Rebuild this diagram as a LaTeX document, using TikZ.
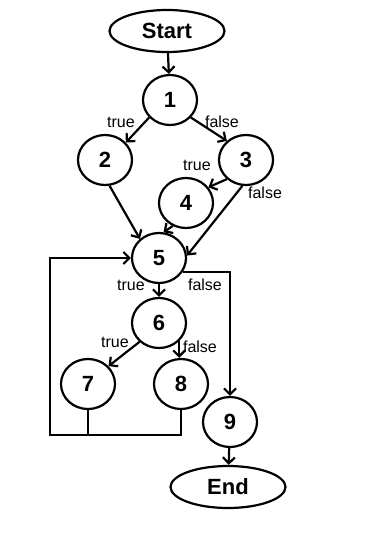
\documentclass[tikz,border=0pt]{standalone}
\usepackage{fontspec}
\setmainfont{Liberation Sans}
\usepackage{tikz}
\usetikzlibrary{positioning}
\usetikzlibrary{arrows.meta}
\usetikzlibrary{shapes.geometric}

\begin{document}
\begin{tikzpicture}[
        x=1pt, y=-1pt,
        block/.style={
            ellipse,
            draw,
            line width=2.2pt,
            inner sep=0pt,
            minimum width=54pt,
            minimum height=50pt,
            font=\fontsize{22}{24}\selectfont\bfseries
        },
        term/.style={
            block,
            minimum width=115pt,
            minimum height=42pt
        },
        lbl/.style={
            inner sep=0pt,
            font=\fontsize{16}{18}\selectfont
        },
        arrow/.style={-{Straight Barb[length=6pt,width=12pt]}, line width=2.2pt},
        line/.style={line width=2.2pt}
    ]

    \useasboundingbox (0,0) rectangle (369,549);

    \node[term] (start) at (167,31) {Start};
    \node[block] (n1) at (170,100) {1};
    \node[block] (n2) at (105,160) {2};
    \node[block] (n3) at (246,160) {3};
    \node[block] (n4) at (186,203) {4};
    \node[block] (n5) at (159,258) {5};
    \node[block] (n6) at (159,323) {6};
    \node[block] (n7) at (88,384) {7};
    \node[block] (n8) at (181,384) {8};
    \node[block] (n9) at (230,422) {9};
    \node[term] (end) at (228,487) {End};
    \coordinate (back) at (50,435);

    \node[lbl] (t1) at (121,122) {true};
    \node[lbl] (f1) at (222,122) {false};
    \node[lbl] (t3) at (197,165) {true};
    \node[lbl] (f3) at (265,193) {false};
    \node[lbl] (t5) at (131,285) {true};
    \node[lbl] (f5) at (205,285) {false};
    \node[lbl] (t6) at (115,342) {true};
    \node[lbl] (f6) at (200,347) {false};

    \draw[arrow] (start) -- (n1);
    \draw[arrow] (n1.220) -- (n2.40);
    \draw[arrow] (n1.320) -- (n3.135);
    \draw[arrow] (n3.225) -- (n4.35);
    \draw[arrow] (n2.280) -- (n5.135);
    \draw[arrow] (n4.240) -- (n5.80);
    \draw[arrow] (n3.262) -- (n5.5);
    \draw[arrow] (n5) -- (n6);
    \draw[arrow] (n5.330) -| (n9.north);
    \draw[arrow] (n6.224) -- (n7.41);
    \draw[arrow] (n6.318) -- (n6.318 |- n8.north);
    \draw[line] (n7.south) -- (n7.south |- back);
    \draw[arrow] (n8.south) |- (back) |- (n5.west);
    \draw[arrow] (n9) -- (end);

    \end{tikzpicture}
\end{document}
